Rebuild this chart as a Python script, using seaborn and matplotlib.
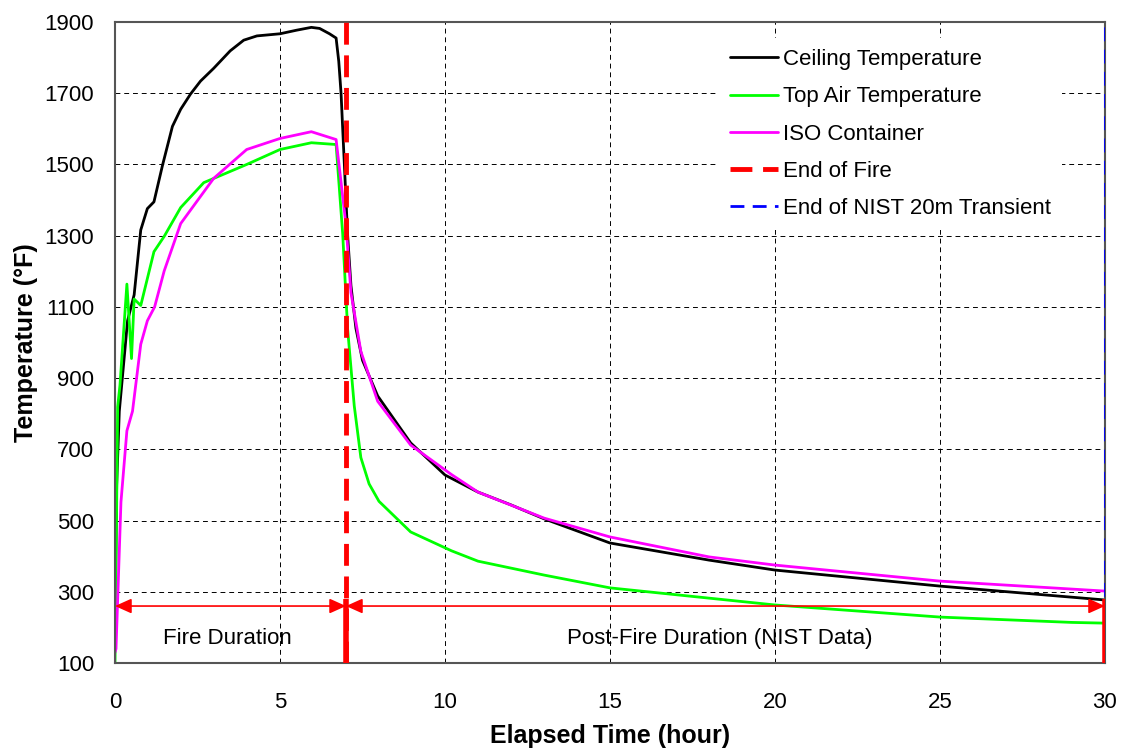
import numpy as np
import pandas as pd
import matplotlib
matplotlib.use("Agg")
import matplotlib.pyplot as plt
from matplotlib.ticker import MultipleLocator
import seaborn as sns

# data
ceiling_t = [0, 0.05, 0.13, 0.38, 0.58, 0.78, 0.98, 1.18, 1.44, 1.74, 1.99, 2.29, 2.59,
             2.99, 3.49, 3.9, 4.3, 5.0, 5.5, 5.95, 6.2, 6.5, 6.7, 6.78, 6.85, 6.95, 7.05,
             7.15, 7.3, 7.5, 7.96, 8.96, 10, 11, 12, 13, 15, 18, 20, 25, 30]
ceiling_T = [200, 600, 807, 1061, 1134, 1316, 1376, 1395, 1498, 1607, 1655, 1698, 1734,
             1770, 1819, 1849, 1861, 1867, 1877, 1885, 1882, 1867, 1855, 1790, 1700, 1500, 1300,
             1160, 1040, 950, 850, 718, 628, 580, 544, 505, 437, 389, 361, 316, 277]

air_t = [0, 0.08, 0.15, 0.36, 0.5, 0.58, 0.78, 1.18, 1.49, 1.99, 2.69, 3.99, 5.0, 5.95,
         6.7, 6.9, 7.05, 7.25, 7.45, 7.7, 8.0, 8.96, 10.2, 11, 13, 15, 20, 25, 29, 30]
air_T = [100, 819, 880, 1164, 955, 1122, 1104, 1255, 1298, 1379, 1449, 1500, 1542, 1561,
         1556, 1305, 1037, 822, 677, 603, 554, 468, 415, 386, 347, 311, 263, 229, 214, 212]

iso_t = [0, 0.03, 0.18, 0.36, 0.53, 0.78, 0.98, 1.2, 1.49, 1.99, 2.99, 3.99, 5.0, 5.95,
         6.7, 7.0, 7.15, 7.45, 7.96, 8.96, 10.2, 11, 13, 15, 18, 20, 25, 30]
iso_T = [130, 140, 552, 752, 807, 995, 1061, 1100, 1201, 1334, 1461, 1542, 1573, 1592,
         1570, 1330, 1140, 975, 835, 712, 629, 580, 507, 454, 398, 375, 330, 302]

end_of_fire = 7
end_of_nist = 30
arrow_level = 260
bar_top = 280

sns.set_style("white")
plt.rcParams["font.family"] = ["Liberation Sans", "DejaVu Sans"]
plt.rcParams["text.color"] = "black"
plt.rcParams["axes.labelcolor"] = "black"
plt.rcParams["xtick.labelcolor"] = "black"
plt.rcParams["ytick.labelcolor"] = "black"

fig = plt.figure(figsize=(11.21, 7.49), dpi=100)
ax = fig.add_axes([0.1026, 0.1148, 0.8831, 0.8558])

series = [
    ("Ceiling Temperature", ceiling_t, ceiling_T, "black"),
    ("Top Air Temperature", air_t, air_T, "#00ff00"),
    ("ISO Container", iso_t, iso_T, "#ff00ff"),
]
for name, t, T, c in series:
    df = pd.DataFrame({"t": t, "T": T})
    sns.lineplot(data=df, x="t", y="T", ax=ax, color=c, lw=2, label=name,
                 sort=False, estimator=None)

ax.axvline(end_of_fire, color="red", lw=3.5, dashes=(4.5, 2.2), label="End of Fire", zorder=4)
ax.axvline(end_of_nist, color="blue", lw=2, dashes=(5, 3), label="End of NIST 20m Transient", zorder=4)

# solid red bars marking ends of durations
ax.plot([end_of_fire, end_of_fire], [100, bar_top], color="red", lw=4, zorder=5, solid_capstyle="butt")
ax.plot([end_of_nist, end_of_nist], [100, bar_top], color="red", lw=4, zorder=5, solid_capstyle="butt")

arrow_kw = dict(arrowstyle="<|-|>,head_length=1.0,head_width=0.45", color="red", lw=1.2,
                shrinkA=0, shrinkB=0)
ax.annotate("", xy=(0, arrow_level), xytext=(end_of_fire, arrow_level), arrowprops=arrow_kw)
ax.annotate("", xy=(end_of_fire, arrow_level), xytext=(end_of_nist, arrow_level), arrowprops=arrow_kw)
ax.text(3.4, 152, "Fire Duration", ha="center", va="baseline", fontsize=16)
ax.text(18.33, 152, "Post-Fire Duration (NIST Data)", ha="center", va="baseline", fontsize=16)

ax.set_xlim(0, 30)
ax.set_ylim(100, 1900)
ax.xaxis.set_major_locator(MultipleLocator(5))
ax.xaxis.set_minor_locator(MultipleLocator(1))
ax.yaxis.set_minor_locator(MultipleLocator(40))
ax.set_yticks(np.arange(100, 1901, 200))
ax.tick_params(which="major", direction="out", length=7, width=1, labelsize=16, color="#444444")
ax.tick_params(which="minor", direction="in", length=5, width=0.8, color="#444444")
ax.tick_params(axis="x", which="major", pad=14)
ax.tick_params(axis="y", which="major", pad=8)
ax.grid(True, which="major", color="black", ls=(0, (5, 4)), lw=0.7)
for s in ax.spines.values():
    s.set_color("#555555")
    s.set_linewidth(1.5)

ax.set_xlabel("Elapsed Time (hour)", fontsize=18, fontweight="bold", labelpad=8)
ax.set_ylabel("Temperature (°F)", fontsize=18, fontweight="bold", labelpad=5)

leg = ax.legend(loc="upper left", frameon=True, fontsize=16, handlelength=2.15,
                handletextpad=0.22, labelspacing=0.73, borderpad=0.5, borderaxespad=0,
                bbox_to_anchor=(0.610, 0.975), facecolor="white", edgecolor="none",
                framealpha=1, fancybox=False)

fig.savefig("out.png", dpi=100)
